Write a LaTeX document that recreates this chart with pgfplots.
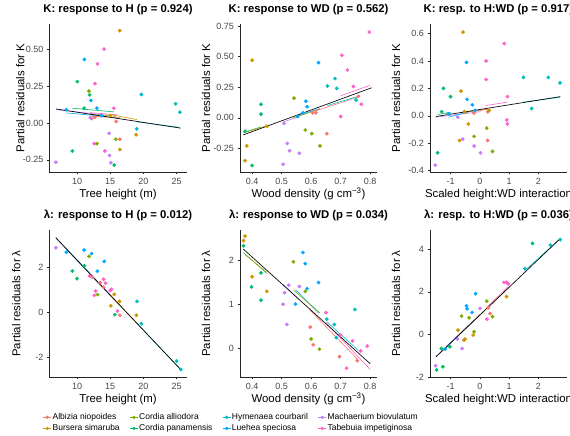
\documentclass[border=0pt]{standalone}
\usepackage{pgfplots}
\pgfplotsset{compat=1.18}
\usepackage{fontspec}
\setmainfont{Liberation Sans}
\definecolor{cA}{HTML}{F8766D}
\definecolor{cB}{HTML}{CD9600}
\definecolor{cC}{HTML}{7CAE00}
\definecolor{cP}{HTML}{00BE67}
\definecolor{cH}{HTML}{00BFC4}
\definecolor{cL}{HTML}{00A9FF}
\definecolor{cM}{HTML}{C77CFF}
\definecolor{cT}{HTML}{FF61CC}
\pgfplotsset{
  panel/.style={
    scale only axis, width=137pt,
    axis lines=left, axis line style={-, draw=black!85, line width=0.5pt},
    tick align=outside, major tick length=2.5pt,
    tick style={draw=black!85, line width=0.5pt},
    ticklabel style={font=\fontsize{9}{10}\selectfont, text=black!72},
    /pgf/number format/assume math mode=true,
    title style={font=\bfseries\fontsize{11.3}{12}\selectfont, at={(axis description cs:0.5,1)}, anchor=base, yshift=5.7pt},
    every axis x label/.style={at={(axis description cs:0.5,0)}, anchor=base, yshift=-25.5pt, font=\fontsize{11.4}{12}\selectfont},
    clip=false,
  },
  ylab/.style={every axis y label/.style={at={([xshift=-#1]axis description cs:0,0.5)}, rotate=90, anchor=base, font=\fontsize{11.4}{12}\selectfont}},
  pts/.style={only marks, scatter, scatter src=explicit symbolic, mark=*, mark size=1.7pt,
    scatter/classes={a={mark=*,cA},b={mark=*,cB},c={mark=*,cC},p={mark=*,cP},h={mark=*,cH},l={mark=*,cL},m={mark=*,cM},t={mark=*,cT}}},
  fit/.style={line width=0.6pt},
  fitk/.style={line width=0.65pt, black},
}
\begin{document}
\begin{tikzpicture}
% ---------- Panel 1
\begin{axis}[panel, ylab=25pt, at={(49.5pt,264pt)}, anchor=south west, height=148pt,
  xmin=5.85, xmax=26.5, ymin=-0.332, ymax=0.67,
  xtick={10,15,20,25}, ytick={-0.25,0,0.25,0.5},
  yticklabel style={/pgf/number format/.cd, fixed, fixed zerofill, precision=2},
  title={K: response to H (p = 0.924)}, xlabel={Tree height (m)}, ylabel={Partial residuals for K}]
\addplot[pts] table[meta=s, row sep=\\] {x y s\\
16.44 0.625 b\\ 14.08 0.50 t\\ 11.1 0.43 l\\ 13.07 0.40 t\\ 10.05 0.28 p\\ 12.7 0.266 t\\
11.8 0.216 c\\ 11.9 0.19 p\\ 19.7 0.193 h\\ 12.1 0.152 l\\ 24.85 0.13 h\\ 25.5 0.073 h\\
11.06 0.10 p\\ 13.0 0.10 l\\ 15.55 0.10 t\\ 8.4 0.09 l\\ 12.2 0.03 a\\ 12.7 0.04 a\\
13.7 0.05 l\\ 15.0 0.05 b\\ 15.9 0.01 a\\ 19.0 -0.04 h\\ 18.9 -0.08 b\\ 14.85 -0.07 m\\
15.85 -0.11 c\\ 16.45 -0.11 a\\ 12.6 -0.14 t\\ 13.0 -0.14 c\\ 9.3 -0.19 p\\ 14.2 -0.19 t\\
16.45 -0.18 b\\ 14.9 -0.22 m\\ 15.1 -0.27 m\\ 15.6 -0.285 p\\ 6.8 -0.266 m\\ 12.0 0.035 m\\
};
\addplot[fit, cM] coordinates {(6.8,0.09) (15.1,0.05)};
\addplot[fit, cL] coordinates {(8.4,0.068) (14.1,0.045)};
\addplot[fit, cP] coordinates {(9.3,0.10) (15.6,0.075)};
\addplot[fit, cT] coordinates {(11.9,0.07) (16.1,0.055)};
\addplot[fit, cA] coordinates {(12.2,0.045) (16.45,0.035)};
\addplot[fit, cC] coordinates {(11.8,0.06) (15.85,0.045)};
\addplot[fit, cB] coordinates {(15.0,0.057) (19.0,0.023)};
\addplot[fit, cH] coordinates {(19.0,0.008) (25.5,-0.03)};
\addplot[fitk] coordinates {(6.8,0.095) (25.6,-0.035)};
\end{axis}
% ---------- Panel 2
\begin{axis}[panel, ylab=30pt, at={(240pt,264pt)}, anchor=south west, height=148pt,
  xmin=0.359, xmax=0.823, ymin=-0.443, ymax=0.766,
  xtick={0.4,0.5,0.6,0.7,0.8}, ytick={-0.25,0,0.25,0.5,0.75},
  xticklabel style={/pgf/number format/.cd, fixed, fixed zerofill, precision=1},
  yticklabel style={/pgf/number format/.cd, fixed, fixed zerofill, precision=2},
  title={K: response to WD (p = 0.562)}, xlabel={Wood density (g cm\textsuperscript{−3})}, ylabel={Partial residuals for K}]
\addplot[pts] table[meta=s, row sep=\\] {x y s\\
0.797 0.70 t\\ 0.40 0.47 b\\ 0.704 0.51 t\\ 0.625 0.45 l\\ 0.723 0.39 t\\ 0.681 0.32 h\\
0.655 0.26 h\\ 0.687 0.24 h\\ 0.743 0.255 t\\ 0.542 0.16 c\\ 0.582 0.135 l\\ 0.43 0.11 p\\
0.752 0.145 h\\ 0.76 0.175 a\\ 0.77 0.11 t\\ 0.586 0.09 l\\ 0.43 0.03 p\\ 0.554 0.01 l\\
0.572 0.04 l\\ 0.605 0.04 a\\ 0.616 0.04 a\\ 0.70 0.01 t\\ 0.376 -0.11 p\\ 0.58 -0.10 c\\
0.508 -0.045 m\\ 0.602 -0.13 c\\ 0.653 -0.13 a\\ 0.519 -0.21 m\\ 0.527 -0.27 m\\ 0.56 -0.29 m\\
0.63 -0.23 c\\ 0.382 -0.23 b\\ 0.376 -0.35 b\\ 0.40 -0.39 p\\ 0.505 -0.38 m\\ 0.45 -0.07 b\\
};
\addplot[fit, cP] coordinates {(0.37,-0.12) (0.43,-0.075)};
\addplot[fit, cB] coordinates {(0.376,-0.12) (0.45,-0.065)};
\addplot[fit, cM] coordinates {(0.505,-0.035) (0.56,0.01)};
\addplot[fit, cL] coordinates {(0.55,0.015) (0.63,0.075)};
\addplot[fit, cC] coordinates {(0.54,0.0) (0.63,0.07)};
\addplot[fit, cA] coordinates {(0.60,0.045) (0.76,0.17)};
\addplot[fit, cH] coordinates {(0.655,0.10) (0.76,0.175)};
\addplot[fit, cT] coordinates {(0.70,0.18) (0.80,0.265)};
\addplot[fitk] coordinates {(0.37,-0.14) (0.805,0.245)};
\end{axis}
% ---------- Panel 3
\begin{axis}[panel, ylab=30pt, at={(430pt,264pt)}, anchor=south west, height=148pt,
  xmin=-1.71, xmax=2.98, ymin=-0.41, ymax=0.67,
  xtick={-1,0,1,2}, ytick={-0.4,-0.2,0,0.2,0.4,0.6},
  yticklabel style={/pgf/number format/.cd, fixed, fixed zerofill, precision=1},
  title={K: resp. to H:WD (p = 0.917)}, xlabel={Scaled height:WD interaction}, ylabel={Partial residuals for K}]
\addplot[pts] table[meta=s, row sep=\\] {x y s\\
-0.58 0.61 b\\ 0.83 0.527 t\\ -0.46 0.39 l\\ 0.21 0.40 t\\ 0.21 0.265 t\\ 1.49 0.28 h\\
2.34 0.28 h\\ 2.74 0.24 h\\ -1.25 0.20 p\\ -0.65 0.18 b\\ -1.01 0.14 p\\ 0.94 0.14 t\\
-0.44 0.12 l\\ -0.26 0.08 l\\ 1.77 0.053 h\\ -0.17 0.04 l\\ -1.31 0.03 p\\ -1.08 0.015 l\\
-0.53 0.03 b\\ -0.21 0.02 a\\ 0.27 0.03 a\\ 0.32 0.04 b\\ -0.76 -0.01 m\\ 0.92 -0.03 t\\
0.94 -0.06 t\\ -0.40 -0.06 b\\ 0.23 -0.09 c\\ -0.2 -0.15 c\\ -0.59 -0.17 m\\ -0.70 -0.18 b\\
0.26 -0.18 a\\ -0.2 -0.22 m\\ 0.02 -0.27 m\\ 0.43 -0.26 c\\ -1.45 -0.27 p\\ -1.53 -0.36 m\\
};
\addplot[fit, cM] coordinates {(-1.53,-0.01) (0.02,0.03)};
\addplot[fit, cP] coordinates {(-1.45,0.01) (-1.0,0.025)};
\addplot[fit, cL] coordinates {(-1.08,-0.01) (-0.17,0.04)};
\addplot[fit, cB] coordinates {(-0.70,0.02) (0.32,0.05)};
\addplot[fit, cA] coordinates {(-0.21,0.03) (0.27,0.05)};
\addplot[fit, cT] coordinates {(0.21,0.075) (0.94,0.10)};
\addplot[fit, cH] coordinates {(1.49,0.10) (2.74,0.135)};
\addplot[fitk] coordinates {(-1.5,-0.005) (2.75,0.14)};
\end{axis}
% ---------- Panel 4
\begin{axis}[panel, ylab=29pt, at={(49.5pt,59pt)}, anchor=south west, height=147pt,
  xmin=5.85, xmax=26.5, ymin=-2.89, ymax=3.64,
  xtick={10,15,20,25}, ytick={-2,0,2},
  title={λ: response to H (p = 0.012)}, xlabel={Tree height (m)}, ylabel={Partial residuals for λ}]
\addplot[pts] table[meta=s, row sep=\\] {x y s\\
6.8 2.85 m\\ 8.4 2.65 l\\ 9.3 1.82 p\\ 10.0 1.48 p\\ 11.07 2.75 l\\ 11.1 2.05 p\\
11.8 2.47 c\\ 12.2 2.59 l\\ 11.9 1.6 t\\ 12.3 1.55 a\\ 13.07 1.81 l\\ 14.1 2.25 l\\
12.6 0.74 t\\ 12.8 0.93 t\\ 13.1 0.77 c\\ 14.0 1.45 t\\ 14.3 1.28 t\\ 13.5 1.3 a\\
14.0 1.1 a\\ 15.0 0.95 t\\ 15.2 1.0 t\\ 15.6 0.78 b\\ 16.4 0.47 b\\ 19.05 0.47 h\\
15.1 0.27 b\\ 15.7 -0.12 p\\ 16.45 -0.15 a\\ 16.1 0.04 t\\ 18.95 -0.15 b\\ 19.7 -0.52 h\\
25.0 -2.18 h\\ 25.65 -2.56 h\\
};
\addplot[fit, cM] coordinates {(6.8,3.28) (15.1,0.70)};
\addplot[fit, cL] coordinates {(8.4,2.80) (14.1,1.02)};
\addplot[fit, cP] coordinates {(9.3,2.52) (15.7,0.53)};
\addplot[fit, cT] coordinates {(11.9,1.71) (16.1,0.41)};
\addplot[fit, cB] coordinates {(15.0,0.74) (19.0,-0.50)};
\addplot[fit, cH] coordinates {(19.0,-0.50) (25.65,-2.57)};
\addplot[fitk] coordinates {(6.8,3.3) (25.6,-2.55)};
\end{axis}
% ---------- Panel 5
\begin{axis}[panel, ylab=30pt, at={(240pt,59pt)}, anchor=south west, height=147pt,
  xmin=0.359, xmax=0.823, ymin=-0.65, ymax=2.68,
  xtick={0.4,0.5,0.6,0.7,0.8}, ytick={0,1,2},
  xticklabel style={/pgf/number format/.cd, fixed, fixed zerofill, precision=1},
  title={λ: response to WD (p = 0.034)}, xlabel={Wood density (g cm\textsuperscript{−3})}, ylabel={Partial residuals for λ},
  legend columns=4, legend cell align=left,
  legend style={at={(axis description cs:-0.066,-0.312)}, anchor=center, draw=none, fill=none,
    font=\fontsize{8.5}{9}\selectfont, nodes={inner sep=1pt}, row sep=1.5pt,
    /tikz/every even column/.append style={column sep=9pt}},
  legend image code/.code={\draw[line width=0.5pt] (0pt,0pt) -- (8pt,0pt); \fill (4pt,0pt) circle (1.5pt);}]
\addlegendimage{cA}\addlegendentry{Albizia niopoides}
\addlegendimage{cC}\addlegendentry{Cordia alliodora}
\addlegendimage{cH}\addlegendentry{Hymenaea courbaril}
\addlegendimage{cM}\addlegendentry{Machaerium biovulatum}
\addlegendimage{cB}\addlegendentry{Bursera simaruba}
\addlegendimage{cP}\addlegendentry{Cordia panamensis}
\addlegendimage{cL}\addlegendentry{Luehea speciosa}
\addlegendimage{cT}\addlegendentry{Tabebuia impetiginosa}
\addplot[pts] table[meta=s, row sep=\\] {x y s\\
0.376 2.54 b\\ 0.371 2.44 b\\ 0.371 2.32 p\\ 0.40 1.62 b\\ 0.398 1.39 p\\ 0.43 1.71 p\\
0.43 1.09 p\\ 0.45 1.29 b\\ 0.54 1.96 c\\ 0.572 2.17 l\\ 0.58 1.92 l\\ 0.586 1.35 l\\
0.58 1.29 c\\ 0.625 1.49 l\\ 0.56 1.40 m\\ 0.524 1.43 m\\ 0.51 1.26 m\\ 0.505 1.0 m\\
0.518 0.54 m\\ 0.547 1.0 l\\ 0.65 0.81 t\\ 0.653 0.66 h\\ 0.748 0.88 h\\ 0.679 0.54 h\\
0.685 0.24 h\\ 0.597 0.48 a\\ 0.60 0.21 c\\ 0.607 0.08 a\\ 0.628 -0.02 c\\ 0.70 0.30 t\\
0.74 0.17 t\\ 0.696 -0.19 a\\ 0.72 -0.45 t\\ 0.756 -0.28 a\\ 0.768 -0.06 t\\ 0.79 0.05 t\\
};
\addplot[fit, cP] coordinates {(0.37,2.17) (0.45,1.70)};
\addplot[fit, cB] coordinates {(0.376,2.12) (0.45,1.72)};
\addplot[fit, cL] coordinates {(0.547,1.33) (0.625,0.80)};
\addplot[fit, cC] coordinates {(0.54,1.32) (0.63,0.80)};
\addplot[fit, cM] coordinates {(0.505,1.45) (0.56,1.10)};
\addplot[fit, cA] coordinates {(0.597,0.86) (0.756,-0.24)};
\addplot[fit, cH] coordinates {(0.653,0.60) (0.76,-0.05)};
\addplot[fit, cT] coordinates {(0.65,0.58) (0.80,-0.48)};
\addplot[fitk] coordinates {(0.37,2.25) (0.80,-0.35)};
\end{axis}
% ---------- Panel 6
\begin{axis}[panel, ylab=30pt, at={(430pt,59pt)}, anchor=south west, height=147pt,
  xmin=-1.71, xmax=2.98, ymin=-2.0, ymax=4.9,
  xtick={-1,0,1,2}, ytick={-2,0,2,4},
  title={λ: resp. to H:WD (p = 0.036)}, xlabel={Scaled height:WD interaction}, ylabel={Partial residuals for λ}]
\addplot[pts] table[meta=s, row sep=\\] {x y s\\
2.75 4.45 h\\ 2.41 4.19 h\\ 1.80 4.27 p\\ 1.54 3.09 h\\ 0.82 2.44 t\\ 0.91 2.44 t\\
0.97 2.37 t\\ 0.91 1.77 b\\ -0.15 1.91 l\\ -0.46 1.34 l\\ -0.44 1.2 l\\ -0.27 1.03 l\\
0.0 1.22 m\\ 0.23 1.56 c\\ 0.29 1.25 a\\ 0.35 0.98 a\\ 0.43 0.83 c\\ 0.24 0.72 t\\
-0.63 0.86 c\\ -0.37 0.78 c\\ -0.75 0.20 b\\ -0.51 -0.22 b\\ -0.55 -0.27 b\\ -0.20 0.12 c\\
-0.23 -0.03 b\\ -0.77 -0.22 m\\ -0.61 -0.66 m\\ -1.03 -0.58 p\\ -1.19 -0.69 l\\ -1.32 -0.66 p\\
-1.52 -1.47 m\\ -1.48 -1.67 p\\ -1.27 -1.52 p\\
};
\addplot[fit, cM] coordinates {(-1.52,-1.05) (0.0,0.95)};
\addplot[fit, cL] coordinates {(-1.19,-0.65) (-0.15,0.72)};
\addplot[fit, cB] coordinates {(-0.75,-0.05) (0.91,2.10)};
\addplot[fit, cT] coordinates {(0.24,1.28) (0.97,2.25)};
\addplot[fit, cH] coordinates {(1.54,3.0) (2.75,4.5)};
\addplot[fitk] coordinates {(-1.5,-1.05) (2.75,4.5)};
\end{axis}
\pgfresetboundingbox
\path[use as bounding box] (0pt,0pt) rectangle (570pt,436pt);
\end{tikzpicture}
\end{document}
